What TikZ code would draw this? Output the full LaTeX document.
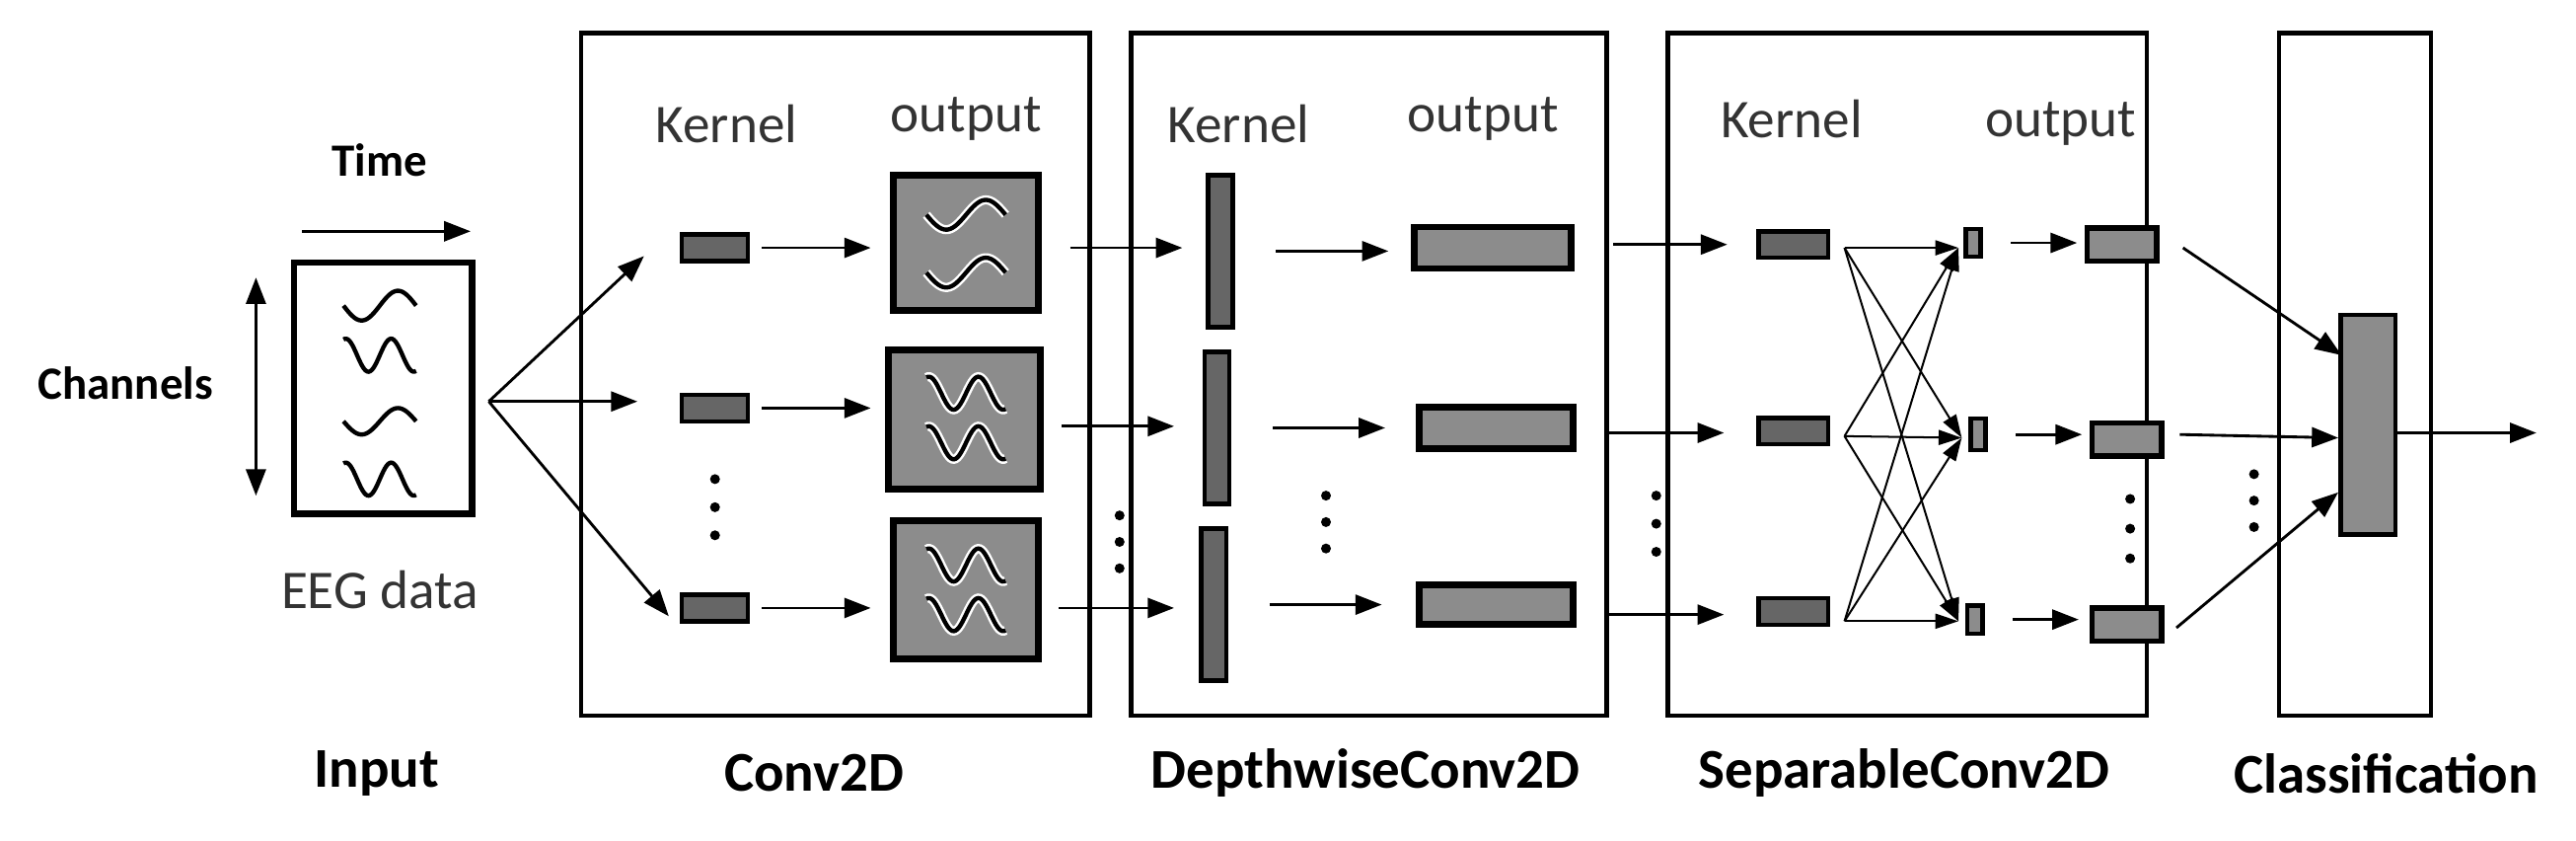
\documentclass[tikz,border=0pt]{standalone}
\usepackage{fontspec}
\setmainfont{Carlito}
\usetikzlibrary{arrows.meta}
\newcommand\mywave[5]{% x y halfwidth amplitude periods
  \draw[shift={(#1,#2)},line width=2.6pt] plot[domain=-1:1,samples=50,smooth] ({\x*#3},{-#4*sin(\x*180*#5)});}
\newcommand\mywaveh[5]{%
  \draw[shift={(#1,#2)},white,line width=5.5pt] plot[domain=-1:1,samples=50,smooth] ({\x*#3},{-#4*sin(\x*180*#5)});
  \draw[shift={(#1,#2)},line width=2.6pt] plot[domain=-1:1,samples=50,smooth] ({\x*#3},{-#4*sin(\x*180*#5)});}
\begin{document}
\begin{tikzpicture}[x=1pt,y=-1pt,
  arr/.style={line width=1.7pt,-{Triangle[length=16pt,width=12pt]}},
  thinarr/.style={line width=1.2pt,-{Triangle[length=14pt,width=9pt]}},
  frame/.style={draw,line width=2.6pt},
  ker/.style={draw,line width=2.6pt,fill=black!60,inner sep=0pt},
  obox/.style={draw,line width=4pt,fill=black!45,inner sep=0pt},
  lbl/.style={font=\fontsize{33}{35}\selectfont,text=black!80},
  blbl/.style={font=\bfseries\fontsize{34}{36}\selectfont},
  dot/.style={circle,fill,inner sep=0pt,minimum size=6pt}]
\useasboundingbox (0,0) rectangle (1560,509);
% Input
\node[font=\bfseries\fontsize{28}{30}\selectfont] (time) at (230,97) {Time};
\node[font=\bfseries\fontsize{28}{30}\selectfont] (chan) at (76,232) {Channels};
\coordinate (ta) at (183,140); \coordinate (tb) at (285,140);
\draw[arr] (ta) -- (tb);
\coordinate (ca) at (155,168); \coordinate (cb) at (155,300);
\draw[line width=1.7pt,{Triangle[length=16pt,width=12pt]}-{Triangle[length=16pt,width=12pt]}] (ca) -- (cb);
\node[draw,line width=4pt,minimum width=108pt,minimum height=152pt] (eeg) at (232,235) {};
\mywave{230}{185}{22}{9}{1}
\mywave{230}{215}{22}{10}{1.6}
\mywave{230}{255}{22}{8}{1}
\mywave{230}{290}{22}{10}{1.6}
\node[lbl] (eegl) at (230,357) {EEG data};
\coordinate (fan) at (296,243);
% Boxes
\node[frame,minimum width=308pt,minimum height=413pt] (b1) at (506,226.5) {};
\node[frame,minimum width=288pt,minimum height=413pt] (b2) at (829,226.5) {};
\node[frame,minimum width=290pt,minimum height=413pt] (b3) at (1155,226.5) {};
\node[frame,minimum width=92pt,minimum height=413pt] (b4) at (1426,226.5) {};
% Conv2D
\node[lbl] at (440,75) {Kernel};
\node[lbl] at (585,72) {output};
\foreach \i/\y in {1/150,2/247,3/368}{
  \node[ker,minimum width=40pt,minimum height=16pt] (k1\i) at (433,\y) {};
}
\node[obox,minimum width=88pt,minimum height=82pt] (o11) at (585,147) {};
\node[obox,minimum width=92pt,minimum height=84pt] (o12) at (584,254) {};
\node[obox,minimum width=88pt,minimum height=84pt] (o13) at (585,357) {};
\mywaveh{585}{130}{24}{9}{1} \mywaveh{585}{165}{24}{9}{1}
\mywaveh{585}{238}{24}{10}{1.6} \mywaveh{585}{268}{24}{10}{1.6}
\mywaveh{585}{342}{24}{10}{1.6} \mywaveh{585}{372}{24}{10}{1.6}
\coordinate (f1) at (390,155); \coordinate (f2) at (386,243); \coordinate (f3) at (405,373);
\draw[arr] (fan) -- (f1); \draw[arr] (fan) -- (f2); \draw[arr] (fan) -- (f3);
\foreach \i in {1,2,3}{\draw[arr] (k1\i.east) ++(7,0) -- ++(66,0);}
\node[dot] at (433,290) {}; \node[dot] at (433,307) {}; \node[dot] at (433,324) {};
% Depthwise
\node[lbl] at (750,75) {Kernel};
\node[lbl] at (898,72) {output};
\node[ker,minimum width=15pt,minimum height=92pt] (k21) at (739,152) {};
\node[ker,minimum width=15pt,minimum height=92pt] (k22) at (737,259) {};
\node[ker,minimum width=15pt,minimum height=92pt] (k23) at (735,366) {};
\node[obox,minimum width=95pt,minimum height=25pt] (o21) at (904,150) {};
\node[obox,minimum width=93pt,minimum height=25pt] (o22) at (906,259) {};
\node[obox,minimum width=93pt,minimum height=24pt] (o23) at (906,366) {};
\coordinate (a1) at (648,150); \coordinate (a2) at (643,258); \coordinate (a3) at (641,368);
\coordinate (d1) at (716,150); \coordinate (d2) at (711,258); \coordinate (d3) at (711,368);
\foreach \i in {1,2,3}{\draw[arr] (a\i) -- (d\i);}
\foreach \i in {1,2,3}{\draw[arr] (k2\i.east) ++(25,0) -- ++(68,0);}
\node[dot] at (678,312) {}; \node[dot] at (678,328) {}; \node[dot] at (678,344) {};
\node[dot] at (803,300) {}; \node[dot] at (803,316) {}; \node[dot] at (803,332) {};
% Separable
\node[lbl] at (1085,72) {Kernel};
\node[lbl] at (1248,75) {output};
\node[ker,minimum width=42pt,minimum height=16pt] (k31) at (1086,148) {};
\node[ker,minimum width=42pt,minimum height=16pt] (k32) at (1086,261) {};
\node[ker,minimum width=42pt,minimum height=16pt] (k33) at (1086,370) {};
\node[ker,fill=black!45,minimum width=9pt,minimum height=17pt] (p1) at (1195,147) {};
\node[ker,fill=black!45,minimum width=9pt,minimum height=19pt] (p2) at (1198,263) {};
\node[ker,fill=black!45,minimum width=9pt,minimum height=17pt] (p3) at (1196,375) {};
\node[ker,line width=3.2pt,fill=black!45,minimum width=42pt,minimum height=20pt] (o31) at (1285,148) {};
\node[ker,line width=3.2pt,fill=black!45,minimum width=42pt,minimum height=20pt] (o32) at (1288,266) {};
\node[ker,line width=3.2pt,fill=black!45,minimum width=42pt,minimum height=20pt] (o33) at (1288,378) {};
\coordinate (s1) at (977,148); \coordinate (s2) at (973,262); \coordinate (s3) at (973,372);
\coordinate (e1) at (1046,148); \coordinate (e2) at (1044,262); \coordinate (e3) at (1044,372);
\foreach \i in {1,2,3}{\draw[arr] (s\i) -- (e\i);}
\coordinate (x1) at (1117,150); \coordinate (x2) at (1117,264); \coordinate (x3) at (1117,376);
\coordinate (y1) at (1186,150); \coordinate (y2) at (1188,265); \coordinate (y3) at (1186,376);
\foreach \i in {1,2,3}{\foreach \j in {1,2,3}{\draw[thinarr] (x\i) -- (y\j);}}
\foreach \i in {1,2,3}{\draw[arr] (p\i.east) ++(17,0) -- ++(40,0);}
\node[dot] at (1003,300) {}; \node[dot] at (1003,317) {}; \node[dot] at (1003,334) {};
\node[dot] at (1290,302) {}; \node[dot] at (1290,320) {}; \node[dot] at (1290,338) {};
% Classification
\node[ker,line width=2.6pt,fill=black!45,minimum width=33pt,minimum height=133pt] (cls) at (1434,257) {};
\coordinate (c1) at (1322,150); \coordinate (c2) at (1320,263); \coordinate (c3) at (1318,380);
\coordinate (r1) at (1418,215); \coordinate (r2) at (1416,265); \coordinate (r3) at (1416,298);
\foreach \i in {1,2,3}{\draw[arr] (c\i) -- (r\i);}
\node[dot] at (1365,287) {}; \node[dot] at (1365,303) {}; \node[dot] at (1365,319) {};
\coordinate (fin) at (1536,262);
\draw[arr] (cls.east) ++(0,5) -- (fin);
% bottom labels
\node[blbl] at (228,468) {Input};
\node[blbl] at (493,468) {Conv2D};
\node[blbl] at (827,468) {DepthwiseConv2D};
\node[blbl] at (1153,468) {SeparableConv2D};
\node[blbl] at (1445,468) {Classification};
\end{tikzpicture}
\end{document}
